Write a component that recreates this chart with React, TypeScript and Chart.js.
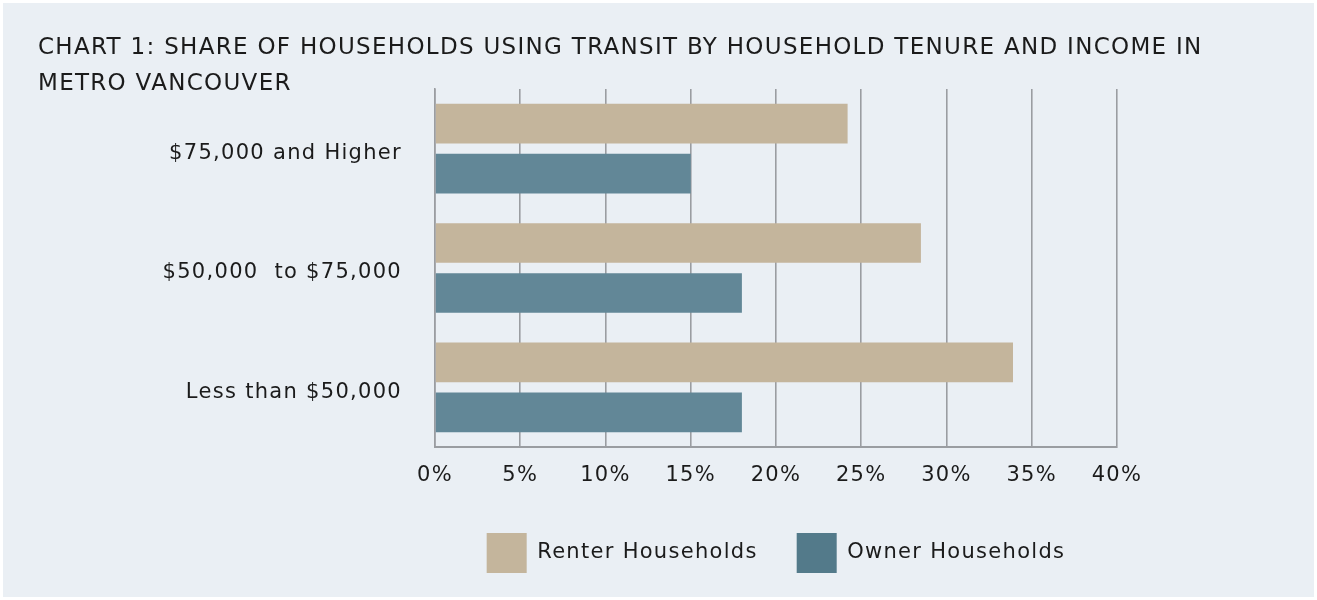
import React, { useEffect, useRef } from "react";
import { Chart, registerables } from "chart.js";

Chart.register(...registerables);

const titleLines = [
  "CHART 1: SHARE OF HOUSEHOLDS USING TRANSIT BY HOUSEHOLD TENURE AND INCOME IN",
  "METRO VANCOUVER",
];
const categories = ["$75,000 and Higher", "$50,000  to $75,000", "Less than $50,000"];
const renterValues = [24.2, 28.5, 33.9];
const ownerValues = [15.0, 18.0, 18.0];
const seriesNames = ["Renter Households", "Owner Households"];
const xTicks = [0, 5, 10, 15, 20, 25, 30, 35, 40];

const FONT = "'DejaVu Sans', sans-serif";
const TEXT = "#1b1b1b";
const BG = "#eaeff4";
const RENTER = "#c4b59c";
const OWNER = "#628797";
const OWNER_LEGEND = "#537a8a";
const SPACING = "1.3px";

const spacingPlugin = {
  id: "letterSpacing",
  beforeLayout(chart: any) {
    (chart.ctx as any).letterSpacing = SPACING;
  },
  afterLayout(chart: any) {
    // let the title use the full canvas width (not limited by the right padding)
    if (chart.titleBlock) chart.titleBlock.right = chart.width - 6;
  },
  beforeDraw(chart: any) {
    (chart.ctx as any).letterSpacing = SPACING;
  },
};

export default function App() {
  const ref = useRef<HTMLCanvasElement | null>(null);

  useEffect(() => {
    if (!ref.current) return;
    const chart = new Chart(ref.current, {
      type: "bar",
      data: {
        labels: categories,
        datasets: [
          {
            label: seriesNames[0],
            data: renterValues,
            backgroundColor: RENTER,
            barPercentage: 0.794,
            categoryPercentage: 0.838,
          },
          {
            label: seriesNames[1],
            data: ownerValues,
            backgroundColor: OWNER,
            barPercentage: 0.794,
            categoryPercentage: 0.838,
          },
        ],
      },
      plugins: [spacingPlugin],
      options: {
        indexAxis: "y",
        animation: false,
        responsive: false,
        maintainAspectRatio: false,
        layout: { padding: { left: 35, right: 197, top: 0, bottom: 14 } },
        scales: {
          x: {
            min: 0,
            max: 40,
            afterBuildTicks: (scale: any) => {
              scale.ticks = xTicks.map((v) => ({ value: v }));
            },
            afterFit: (scale: any) => {
              scale.height = 47;
            },
            grid: {
              color: "#9a9da1",
              lineWidth: 1.6,
              drawTicks: false,
            },
            border: { display: true, color: "#9a9da1", width: 2 },
            ticks: {
              padding: 16,
              color: TEXT,
              font: { family: FONT, size: 21 },
              callback: (v: any) => v + "%",
            },
          },
          y: {
            afterFit: (scale: any) => {
              scale.width = 397;
            },
            grid: { display: false, drawTicks: false },
            border: { display: true, color: "#9a9da1", width: 1.6 },
            ticks: {
              padding: 33,
              labelOffset: 5,
              color: TEXT,
              font: { family: FONT, size: 21 },
            },
          },
        },
        plugins: {
          title: {
            display: true,
            text: titleLines,
            align: "start",
            color: TEXT,
            font: { family: FONT, size: 23, weight: "normal", lineHeight: 36 / 23 },
            padding: { top: 27, bottom: -13 },
          },
          legend: {
            display: true,
            position: "bottom",
            fullSize: false,
            labels: {
              boxWidth: 40,
              boxHeight: 40,
              padding: 39,
              color: TEXT,
              font: { family: FONT, size: 21 },
              generateLabels: (c: any) => {
                const items = Chart.defaults.plugins.legend.labels.generateLabels(c);
                return items.map((it: any, i: number) => ({
                  ...it,
                  fillStyle: i === 0 ? RENTER : OWNER_LEGEND,
                  strokeStyle: "rgba(0,0,0,0)",
                  lineWidth: 0,
                }));
              },
            },
          },
          tooltip: { enabled: false },
        },
      },
    });
    return () => chart.destroy();
  }, []);

  return (
    <div
      style={{
        position: "absolute",
        left: 3,
        top: 3,
        width: 1311,
        height: 594,
        background: BG,
      }}
    >
      <canvas ref={ref} width={1311} height={594} style={{ display: "block" }} />
    </div>
  );
}
